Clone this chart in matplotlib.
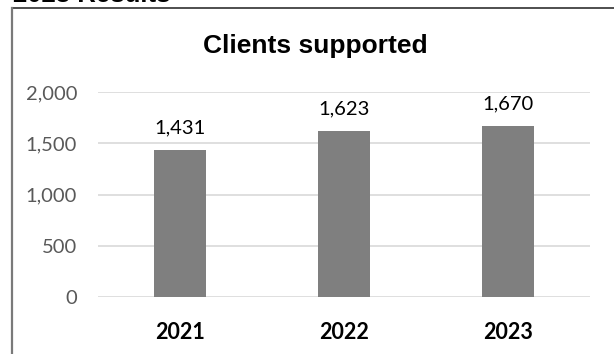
import matplotlib.pyplot as plt
from matplotlib.lines import Line2D
from matplotlib.ticker import FuncFormatter

# clients supported per year
years = ['2021', '2022', '2023']
clients = [1431, 1623, 1670]
yticks = [0, 500, 1000, 1500, 2000]

W, H = 614, 354
fig = plt.figure(figsize=(W / 100, H / 100), dpi=100)

# plot area in pixel terms
left, right, top, bottom = 98, 590, 92, 297
ax = fig.add_axes([left / W, 1 - bottom / H, (right - left) / W, (bottom - top) / H])

x = range(len(years))
ax.bar(x, clients, width=0.32, color='#7f7f7f', zorder=3)
ax.set_xlim(-0.5, 2.5)
ax.set_ylim(0, 2000)
ax.set_yticks(yticks)
ax.yaxis.set_major_formatter(FuncFormatter(lambda v, p: '{:,.0f}'.format(v)))
ax.grid(axis='y', color='#d9d9d9', linewidth=1.2, zorder=0)
for s in ax.spines.values():
    s.set_visible(False)
ax.tick_params(axis='y', length=0, pad=15, labelsize=14.5, labelcolor='#595959')
ax.tick_params(axis='x', length=0, pad=18)
ax.set_xticks(list(x))
ax.set_xticklabels(years, fontsize=15.5, fontweight='bold', color='black')
for lab in ax.get_yticklabels() + ax.get_xticklabels():
    lab.set_family('Lato')

# value labels above each bar
for i, v in enumerate(clients):
    ax.annotate('{:,}'.format(v), (i, v), xytext=(0, 12), textcoords='offset points',
                ha='center', va='baseline', fontsize=14.5, family='Lato', color='black')

fig.text(315 / W, 1 - 53 / H, 'Clients supported', ha='center', va='baseline',
         fontsize=19, fontweight='bold', family='Liberation Sans')

# section heading, mostly above the frame
fig.text(13 / W, 1 - 2.5 / H, '2023 Results', ha='left', va='baseline',
         fontsize=18.5, fontweight='bold', family='Liberation Sans')

# chart frame
fig.add_artist(Line2D([12 / W, 1], [1 - 8 / H, 1 - 8 / H], color='#404040', linewidth=1.3))
fig.add_artist(Line2D([12 / W, 12 / W], [0, 1 - 8 / H], color='#7a7a7a', linewidth=1.6))

fig.savefig('out.png', dpi=100)
